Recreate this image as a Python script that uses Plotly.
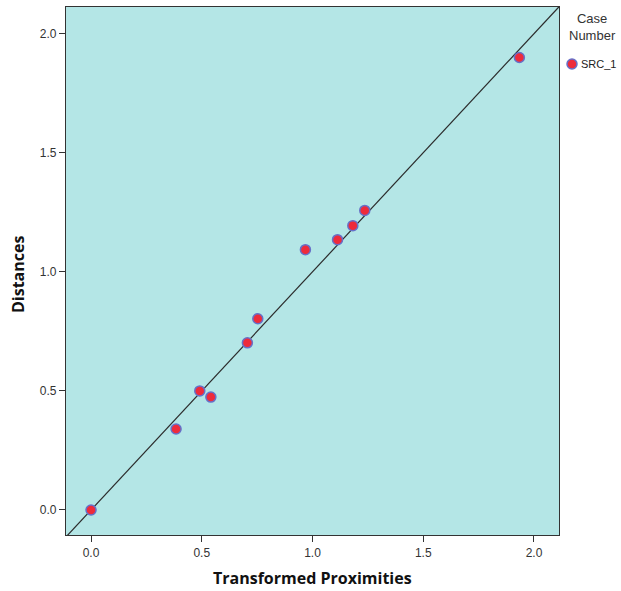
import plotly.graph_objects as go

transformed_proximities = [0.0, 0.384, 0.491, 0.541, 0.706, 0.753, 0.968, 1.113, 1.182, 1.236, 1.934]
distances = [0.0, 0.340, 0.500, 0.474, 0.702, 0.803, 1.093, 1.135, 1.194, 1.258, 1.900]
series_name = "SRC_1"
legend_title = "Case<br>Number"
x_title = "Transformed Proximities"
y_title = "Distances"
tick_vals = [0.0, 0.5, 1.0, 1.5, 2.0]
tick_text = ["0.0", "0.5", "1.0", "1.5", "2.0"]
x_range = [-0.113, 2.113]
y_range = [-0.105, 2.112]

marker_fill = "#ee2b3b"
marker_edge = "#6670c8"
FONT = "Liberation Sans, Arial"
TITLE_FONT = "Open Sans, Liberation Sans, Arial"

fig = go.Figure()
# reference line y = x
fig.add_trace(go.Scatter(
    x=[x_range[0], x_range[1]], y=[x_range[0], x_range[1]],
    mode="lines", line=dict(color="#2b2b2b", width=1.2),
    showlegend=False, hoverinfo="skip"))
fig.add_trace(go.Scatter(
    x=transformed_proximities, y=distances, mode="markers", name=series_name,
    showlegend=False,
    marker=dict(size=10, color=marker_fill, line=dict(color=marker_edge, width=1.5))))

axis_common = dict(
    showline=True, linecolor="#333333", linewidth=1.2, mirror=True,
    ticks="outside", ticklen=6, tickcolor="#333333", tickwidth=1.2,
    tickvals=tick_vals, ticktext=tick_text, showgrid=False, zeroline=False,
    automargin=False,
    tickfont=dict(family=FONT, size=12, color="#333333"),
)
fig.update_xaxes(range=x_range, **axis_common)
fig.update_yaxes(range=y_range, **axis_common)

# axis titles
fig.add_annotation(xref="paper", yref="paper", x=0.5, y=0.0, yshift=-43,
                   xanchor="center", yanchor="middle", showarrow=False,
                   text="<b>%s</b>" % x_title, font=dict(family=TITLE_FONT, size=16, color="#111111"))
fig.add_annotation(xref="paper", yref="paper", x=0.0, y=0.5, xshift=-48, yshift=-4, textangle=-90,
                   xanchor="center", yanchor="middle", showarrow=False,
                   text="<b>%s</b>" % y_title, font=dict(family=TITLE_FONT, size=16, color="#111111"))

# legend (drawn manually to match the narrow right-side key)
fig.add_annotation(xref="paper", yref="paper", x=1.0, y=1.0, xshift=33, yshift=-2,
                   xanchor="center", yanchor="top", align="center", showarrow=False,
                   text=legend_title, font=dict(family=FONT, size=13, color="#333333"))
fig.add_shape(type="circle", xref="paper", yref="paper", xsizemode="pixel", ysizemode="pixel",
              xanchor=1.0, yanchor=1.0, x0=8, x1=18, y0=-52, y1=-62,
              fillcolor=marker_fill, line=dict(color=marker_edge, width=1.5))
fig.add_annotation(xref="paper", yref="paper", x=1.0, y=1.0, xshift=20, yshift=-57,
                   xanchor="left", yanchor="middle", showarrow=False,
                   text=series_name, font=dict(family=FONT, size=11, color="#222222"))

fig.update_layout(
    width=621, height=591,
    margin=dict(l=66, r=62, t=7, b=56, autoexpand=False),
    plot_bgcolor="#b4e6e6", paper_bgcolor="white",
    showlegend=False,
)

fig.write_html("out.html", config={"displayModeBar": False},
               post_script="document.body.style.margin='0';document.body.style.overflow='hidden';")
